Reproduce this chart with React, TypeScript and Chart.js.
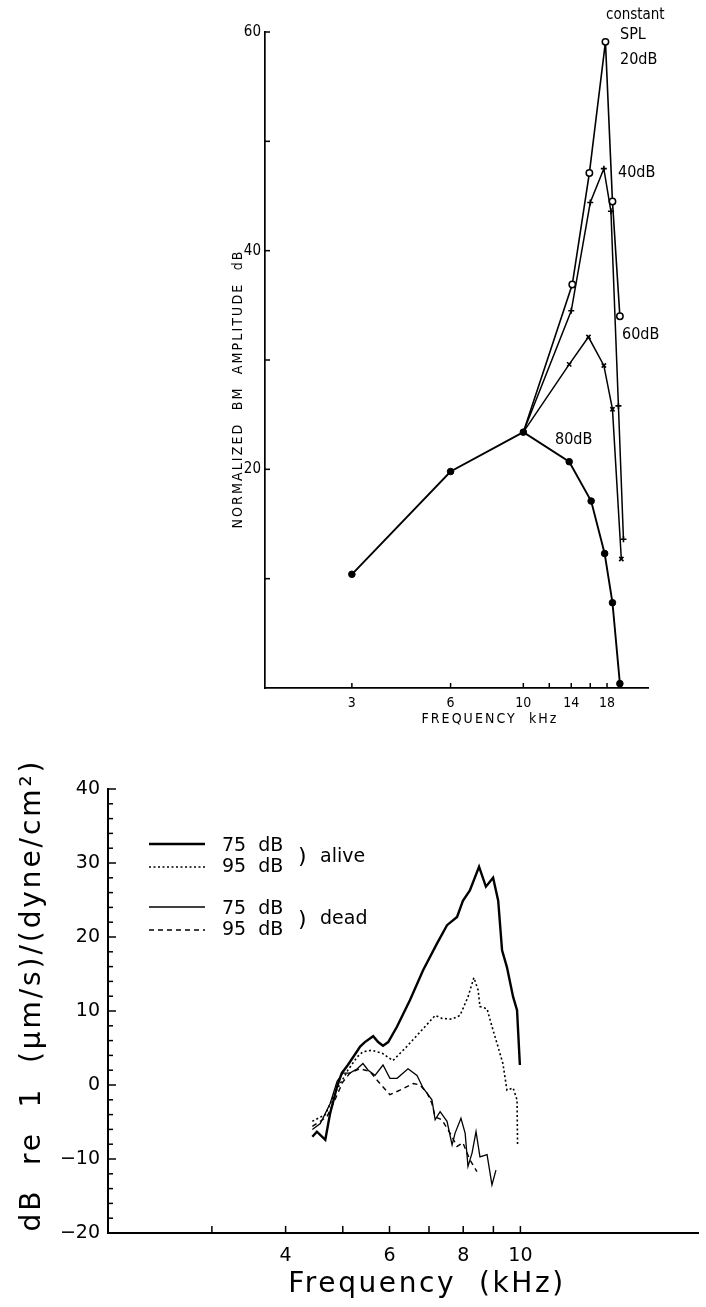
import React, { useEffect, useRef } from "react";
import { Chart, registerables } from "chart.js";

Chart.register(...registerables);

// ---------------- Top chart: normalized BM amplitude ----------------
const topXTicks = [3, 6, 10, 12, 14, 16, 18];
const topXLabels = ["3", "6", "10", "", "14", "", "18"];
const topYTicks = [0, 10, 20, 30, 40, 50, 60];
const topYLabels = [20, 40, 60];

const freq80 = [3, 6, 10, 13.8, 16.1, 17.7, 18.7, 19.7];
const amp80 = [10.4, 19.8, 23.4, 20.7, 17.1, 12.3, 7.8, 0.4];
const freq60 = [10, 13.8, 15.8, 17.6, 18.7, 19.9];
const amp60 = [23.4, 29.6, 32.1, 29.5, 25.5, 11.8];
const freq40 = [10, 14, 16, 17.6, 18.5, 19.5, 20.2];
const amp40 = [23.4, 34.5, 44.4, 47.5, 43.6, 25.8, 13.6];
const freq20 = [10, 14.1, 15.9, 17.8, 18.7, 19.7];
const amp20 = [23.4, 36.9, 47.1, 59.1, 44.5, 34.0];

// ---------------- Bottom chart: velocity re pressure ----------------
const botXTicks = [3, 4, 5, 6, 7, 8, 9, 10];
const botXLabels = ["", "4", "", "6", "", "8", "", "10"];
const botYTicks = [-20, -18, -16, -14, -12, -10, -8, -6, -4, -2, 0, 2, 4, 6, 8, 10, 12, 14, 16, 18, 20, 22, 24, 26, 28, 30, 32, 34, 36, 38, 40];

const aliveFreq75 = [4.44, 4.52, 4.67, 4.76, 4.89, 4.98, 5.1, 5.29, 5.35, 5.45, 5.63, 5.74, 5.85, 5.97, 6.18, 6.5, 6.84, 7.22, 7.51, 7.81, 7.99, 8.21, 8.51, 8.74, 8.99, 9.17, 9.31, 9.49, 9.72, 9.87, 9.98];
const aliveDb75 = [-7.0, -6.3, -7.4, -3.8, -0.2, 1.6, 2.7, 4.6, 5.2, 5.8, 6.6, 5.8, 5.3, 5.8, 7.9, 11.5, 15.5, 19.1, 21.6, 22.7, 24.9, 26.3, 29.5, 26.8, 28.0, 24.9, 18.2, 15.9, 11.9, 10.1, 2.7];

const aliveFreq95 = [4.44, 4.67, 4.85, 5.1, 5.29, 5.41, 5.6, 5.83, 6.08, 6.42, 6.84, 7.17, 7.36, 7.66, 7.9, 8.15, 8.34, 8.48, 8.54, 8.78, 8.95, 9.13, 9.34, 9.49, 9.72, 9.87, 9.89];
const aliveDb95 = [-4.9, -4.0, -1.1, 2.0, 3.8, 4.5, 4.7, 4.3, 3.3, 5.2, 7.6, 9.4, 9.0, 8.9, 9.4, 11.9, 14.5, 12.8, 10.6, 10.3, 7.9, 5.6, 2.9, -0.7, -0.4, -2.0, -8.1];

const deadFreq75 = [4.44, 4.58, 4.76, 4.89, 5.0, 5.14, 5.29, 5.41, 5.52, 5.67, 5.85, 6.01, 6.18, 6.45, 6.68, 6.84, 7.08, 7.17, 7.31, 7.51, 7.66, 7.75, 7.93, 8.06, 8.15, 8.28, 8.41, 8.54, 8.78, 8.95, 9.09];
const deadDb75 = [-6.0, -5.2, -2.5, 0.5, 1.6, 1.6, 2.2, 2.9, 2.0, 1.3, 2.7, 0.9, 0.9, 2.2, 1.3, -0.4, -2.0, -4.7, -3.6, -4.9, -8.1, -6.5, -4.5, -6.5, -11.0, -9.2, -6.3, -9.7, -9.4, -13.5, -11.5];

const deadFreq95 = [4.44, 4.7, 4.85, 5.0, 5.14, 5.35, 5.56, 5.78, 6.01, 6.25, 6.58, 6.76, 6.95, 7.08, 7.17, 7.36, 7.6, 7.81, 7.99, 8.21, 8.44];
const deadDb95 = [-5.6, -4.3, -2.0, 0.4, 1.6, 2.2, 1.8, 0.2, -1.3, -0.7, 0.2, 0.0, -1.1, -2.5, -4.3, -4.7, -6.5, -8.3, -7.8, -10.1, -11.7];

const LETTER = '"DejaVu Sans Condensed", "Liberation Sans Narrow", "DejaVu Sans", sans-serif';
const SANS = '"DejaVu Sans", "Liberation Sans", sans-serif';

type TextItem = {
  text: string;
  x: number;
  y: number;
  font: string;
  align?: CanvasTextAlign;
  rotate?: number;
  fit?: number;
};

function pts(xs: number[], ys: number[]) {
  return xs.map((x, i) => ({ x, y: ys[i] }));
}

function drawText(ctx: CanvasRenderingContext2D, t: TextItem) {
  ctx.save();
  ctx.font = t.font;
  ctx.fillStyle = "#000";
  ctx.textBaseline = "middle";
  ctx.textAlign = t.align || "left";
  let spacing = 0;
  (ctx as any).letterSpacing = "0px";
  if (t.fit) {
    const w = ctx.measureText(t.text).width;
    spacing = (t.fit - w) / Math.max(1, t.text.length - 1);
  }
  (ctx as any).letterSpacing = spacing + "px";
  ctx.translate(t.x, t.y);
  if (t.rotate) ctx.rotate(t.rotate);
  ctx.fillText(t.text, 0, 0);
  ctx.restore();
}

function inwardTicks(id: string, yLen: (v: number) => number, xLen: number, width: number) {
  return {
    id,
    afterDraw(chart: any) {
      const { ctx, chartArea } = chart;
      const xs = chart.scales.x;
      const ys = chart.scales.y;
      ctx.save();
      ctx.strokeStyle = "#000";
      ctx.lineWidth = width;
      ys.ticks.forEach((t: any) => {
        if (t.value === ys.min) return;
        const py = ys.getPixelForValue(t.value);
        ctx.beginPath();
        ctx.moveTo(chartArea.left, py);
        ctx.lineTo(chartArea.left + yLen(t.value), py);
        ctx.stroke();
      });
      xs.ticks.forEach((t: any) => {
        const px = xs.getPixelForValue(t.value);
        ctx.beginPath();
        ctx.moveTo(px, chartArea.bottom);
        ctx.lineTo(px, chartArea.bottom - xLen);
        ctx.stroke();
      });
      ctx.restore();
    },
  };
}

function makeTop(canvas: HTMLCanvasElement) {
  const texts: TextItem[] = [
    { text: "NORMALIZED  BM  AMPLITUDE  dB", x: 238, y: 389, font: `14px ${LETTER}`, align: "center", rotate: -Math.PI / 2, fit: 277 },
    { text: "FREQUENCY  kHz", x: 490, y: 719, font: `14px ${LETTER}`, align: "center", fit: 135 },
    { text: "constant", x: 606, y: 15, font: `15px ${LETTER}` },
    { text: "SPL", x: 620, y: 35, font: `16px ${LETTER}` },
    { text: "20dB", x: 620, y: 60, font: `16px ${LETTER}` },
    { text: "40dB", x: 618, y: 173, font: `16px ${LETTER}` },
    { text: "60dB", x: 622, y: 335, font: `16px ${LETTER}` },
    { text: "80dB", x: 555, y: 440, font: `16px ${LETTER}` },
  ];
  const textPlugin = {
    id: "topTexts",
    afterDraw(chart: any) {
      texts.forEach((t) => drawText(chart.ctx, t));
    },
  };
  const common = { borderColor: "#000", tension: 0, clip: false as any, pointBorderColor: "#000" };
  return new Chart(canvas, {
    type: "line",
    data: {
      datasets: [
        { ...common, label: "80 dB", data: pts(freq80, amp80), borderWidth: 1.9, pointStyle: "circle", pointRadius: 3.3, pointBackgroundColor: "#000", pointBorderWidth: 1 },
        { ...common, label: "60 dB", data: pts(freq60, amp60), borderWidth: 1.5, pointStyle: "crossRot", pointRadius: freq60.map((_, i) => (i === 0 ? 0 : 3)), pointBorderWidth: 1.6 },
        { ...common, label: "40 dB", data: pts(freq40, amp40), borderWidth: 1.5, pointStyle: "cross", pointRadius: freq40.map((_, i) => (i === 0 ? 0 : 3)), pointBorderWidth: 1.6 },
        { ...common, label: "20 dB", data: pts(freq20, amp20), borderWidth: 1.6, pointStyle: "circle", pointRadius: freq20.map((_, i) => (i === 0 ? 0 : 3.2)), pointBackgroundColor: "#fff", pointBorderWidth: 1.5 },
      ],
    },
    options: {
      animation: false,
      responsive: false,
      devicePixelRatio: 1,
      layout: { padding: { top: 32, right: 58, left: 0, bottom: 0 } },
      plugins: { legend: { display: false }, tooltip: { enabled: false }, title: { display: false } },
      scales: {
        x: {
          type: "logarithmic",
          min: 1.63,
          max: 24,
          afterFit: (s: any) => {
            s.height = 52;
          },
          afterBuildTicks: (s: any) => {
            s.ticks = topXTicks.map((v) => ({ value: v }));
          },
          grid: { display: false, drawTicks: false },
          border: { display: true, color: "#000", width: 1.7 },
          ticks: {
            autoSkip: false,
            maxRotation: 0,
            minRotation: 0,
            padding: 7,
            color: "#000",
            font: { family: LETTER, size: 14 },
            callback: (_v: any, i: number) => topXLabels[i],
          },
        },
        y: {
          type: "linear",
          min: 0,
          max: 60,
          afterFit: (s: any) => {
            s.width = 265;
          },
          afterBuildTicks: (s: any) => {
            s.ticks = topYTicks.map((v) => ({ value: v }));
          },
          grid: { display: false, drawTicks: false },
          border: { display: true, color: "#000", width: 1.7 },
          ticks: {
            autoSkip: false,
            padding: 4,
            color: "#000",
            font: { family: LETTER, size: 15 },
            callback: (v: any) => (topYLabels.includes(Number(v)) ? String(v) : ""),
          },
        },
      },
    } as any,
    plugins: [inwardTicks("topTicks", () => 5, 5, 1.5), textPlugin],
  });
}

function makeBottom(canvas: HTMLCanvasElement) {
  const texts: TextItem[] = [
    { text: "dB  re  1  (\u03bcm/s)/(dyne/cm\u00b2)", x: 33, y: 255, font: `28px ${SANS}`, align: "center", rotate: -Math.PI / 2, fit: 470 },
    { text: "Frequency  (kHz)", x: 427, y: 545, font: `28px ${SANS}`, align: "center", fit: 275 },
    { text: "75  dB", x: 222, y: 106, font: `19px ${SANS}` },
    { text: "95  dB", x: 222, y: 127, font: `19px ${SANS}` },
    { text: "75  dB", x: 222, y: 169, font: `19px ${SANS}` },
    { text: "95  dB", x: 222, y: 190, font: `19px ${SANS}` },
    { text: ")", x: 298, y: 117, font: `22px ${SANS}` },
    { text: ")", x: 298, y: 180, font: `22px ${SANS}` },
    { text: "alive", x: 320, y: 117, font: `19px ${SANS}` },
    { text: "dead", x: 320, y: 179, font: `19px ${SANS}` },
  ];
  const legendLines = [
    { y: 104, w: 2.4, dash: [] as number[] },
    { y: 127, w: 1.6, dash: [2, 2.5] },
    { y: 167, w: 1.3, dash: [] as number[] },
    { y: 190, w: 1.4, dash: [5, 4] },
  ];
  const textPlugin = {
    id: "botTexts",
    afterDraw(chart: any) {
      const ctx = chart.ctx as CanvasRenderingContext2D;
      texts.forEach((t) => drawText(ctx, t));
      legendLines.forEach((l) => {
        ctx.save();
        ctx.strokeStyle = "#000";
        ctx.lineWidth = l.w;
        ctx.setLineDash(l.dash);
        ctx.beginPath();
        ctx.moveTo(149, l.y);
        ctx.lineTo(205, l.y);
        ctx.stroke();
        ctx.restore();
      });
    },
  };
  const common = { borderColor: "#000", tension: 0, pointRadius: 0, clip: false as any };
  return new Chart(canvas, {
    type: "line",
    data: {
      datasets: [
        { ...common, label: "alive 75 dB", data: pts(aliveFreq75, aliveDb75), borderWidth: 2.4 },
        { ...common, label: "alive 95 dB", data: pts(aliveFreq95, aliveDb95), borderWidth: 1.6, borderDash: [2, 2.5] },
        { ...common, label: "dead 75 dB", data: pts(deadFreq75, deadDb75), borderWidth: 1.3 },
        { ...common, label: "dead 95 dB", data: pts(deadFreq95, deadDb95), borderWidth: 1.4, borderDash: [5, 4] },
      ],
    },
    options: {
      animation: false,
      responsive: false,
      devicePixelRatio: 1,
      layout: { padding: { top: 49, right: 8, left: 0, bottom: 0 } },
      plugins: { legend: { display: false }, tooltip: { enabled: false }, title: { display: false } },
      scales: {
        x: {
          type: "logarithmic",
          min: 2,
          max: 20,
          afterFit: (s: any) => {
            s.height = 74;
          },
          afterBuildTicks: (s: any) => {
            s.ticks = botXTicks.map((v) => ({ value: v }));
          },
          grid: { display: false, drawTicks: false },
          border: { display: true, color: "#000", width: 2 },
          ticks: {
            autoSkip: false,
            maxRotation: 0,
            minRotation: 0,
            padding: 12,
            color: "#000",
            font: { family: SANS, size: 19 },
            callback: (_v: any, i: number) => botXLabels[i],
          },
        },
        y: {
          type: "linear",
          min: -20,
          max: 40,
          afterFit: (s: any) => {
            s.width = 108;
          },
          afterBuildTicks: (s: any) => {
            s.ticks = botYTicks.map((v) => ({ value: v }));
          },
          grid: { display: false, drawTicks: false },
          border: { display: true, color: "#000", width: 2 },
          ticks: {
            autoSkip: false,
            padding: 8,
            color: "#000",
            font: { family: SANS, size: 19 },
            callback: (v: any) => {
              const n = Number(v);
              if (n % 10 !== 0) return "";
              return n < 0 ? "\u2212" + Math.abs(n) : String(n);
            },
          },
        },
      },
    } as any,
    plugins: [inwardTicks("botTicks", (v) => (v % 10 === 0 ? 8 : 5), 7, 1.5), textPlugin],
  });
}

export default function App() {
  const topRef = useRef<HTMLCanvasElement>(null);
  const botRef = useRef<HTMLCanvasElement>(null);
  useEffect(() => {
    const charts: Chart[] = [];
    if (topRef.current) charts.push(makeTop(topRef.current));
    if (botRef.current) charts.push(makeBottom(botRef.current));
    return () => charts.forEach((c) => c.destroy());
  }, []);
  return (
    <div style={{ position: "absolute", left: 0, top: 0, width: 706, height: 1307, background: "#fff" }}>
      <canvas ref={topRef} width={706} height={740} style={{ position: "absolute", left: 0, top: 0, display: "block" }} />
      <canvas ref={botRef} width={706} height={567} style={{ position: "absolute", left: 0, top: 740, display: "block" }} />
    </div>
  );
}
